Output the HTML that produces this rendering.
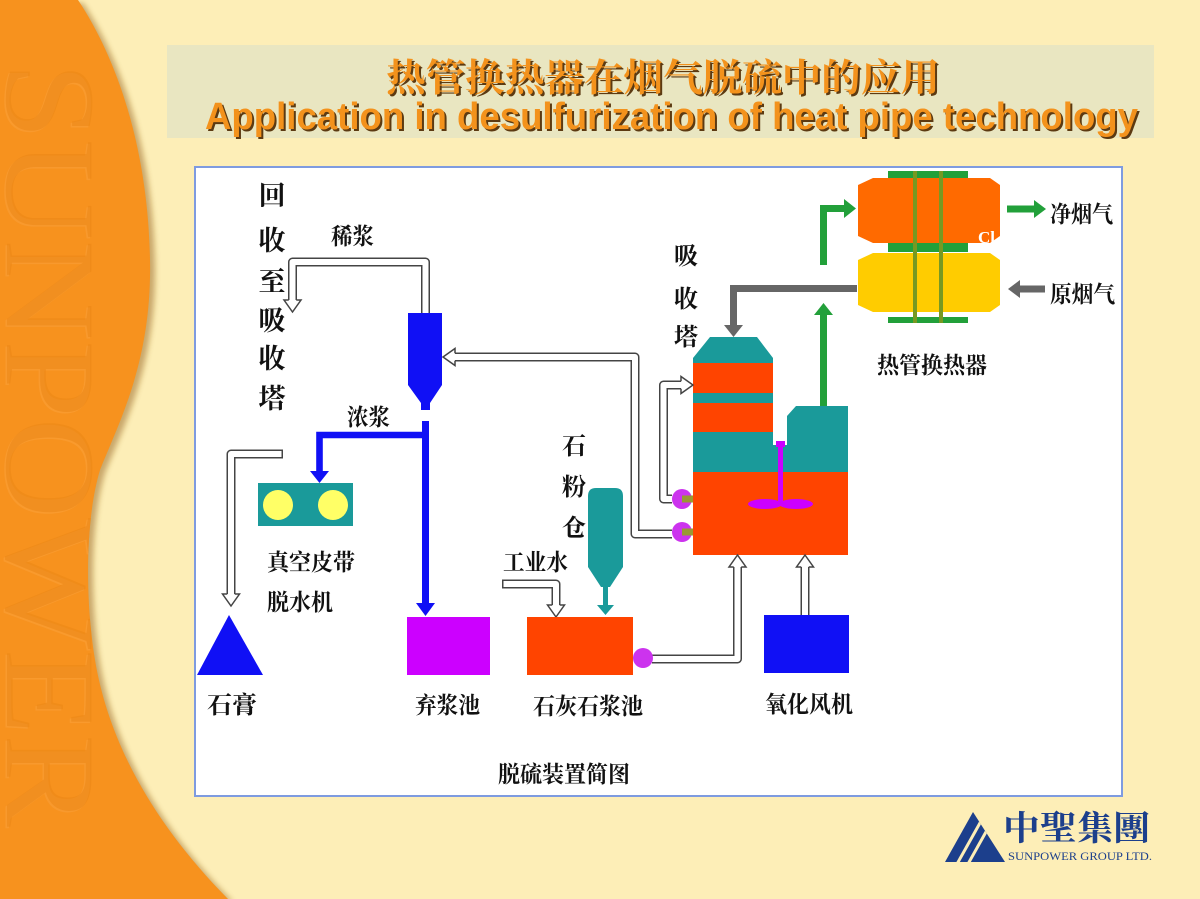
<!DOCTYPE html>
<html><head><meta charset="utf-8"><style>
html,body{margin:0;padding:0;background:#FDEEB7;}
svg{display:block}
</style></head><body>
<svg width="1200" height="899" viewBox="0 0 1200 899" xmlns="http://www.w3.org/2000/svg">
<defs>
<filter id="blur" x="-20%" y="-20%" width="140%" height="140%"><feGaussianBlur stdDeviation="3"/></filter>
<clipPath id="orangeClip"><path d="M0,0 L78,0 C118,60 148,150 150,260 C152,360 120,420 100,470 C85,520 85,600 95,660 C110,750 160,830 228,899 L0,899 Z"/></clipPath>
<clipPath id="tri"><polygon points="945,862 973,812 1005,862"/></clipPath>
</defs>
<rect width="1200" height="899" fill="#FDEEB7"/>
<!-- orange band -->
<path d="M0,0 L78,0 C118,60 148,150 150,260 C152,360 120,420 100,470 C85,520 85,600 95,660 C110,750 160,830 228,899 L0,899 Z" transform="translate(5,3)" fill="#8a5210" opacity="0.45" filter="url(#blur)"/>
<path d="M0,0 L78,0 C118,60 148,150 150,260 C152,360 120,420 100,470 C85,520 85,600 95,660 C110,750 160,830 228,899 L0,899 Z" fill="#F7921E"/>
<g clip-path="url(#orangeClip)">
<text transform="translate(7,62) rotate(90)" x="1.5" y="1.5" font-family="'Liberation Serif',serif" font-size="129" textLength="765" lengthAdjust="spacingAndGlyphs" fill="#FBA84A" opacity="0.35">SUNPOWER</text>
<text transform="translate(7,62) rotate(90)" x="0" y="0" font-family="'Liberation Serif',serif" font-size="129" textLength="765" lengthAdjust="spacingAndGlyphs" fill="#EC8716" opacity="0.55">SUNPOWER</text>
</g>

<!-- title box -->
<rect x="167" y="45" width="987" height="93" fill="#E9E6C1"/>
<text x="388" y="93" font-family="'Liberation Serif','Noto Serif CJK SC',serif" font-weight="700" font-size="38" textLength="554" lengthAdjust="spacingAndGlyphs" fill="#5C3A12">热管换热器在烟气脱硫中的应用</text>
<text x="386" y="91" font-family="'Liberation Serif','Noto Serif CJK SC',serif" font-weight="700" font-size="38" textLength="554" lengthAdjust="spacingAndGlyphs" fill="#F3921C">热管换热器在烟气脱硫中的应用</text>
<text x="207" y="131" font-family="'Liberation Sans',sans-serif" font-weight="700" font-size="38" textLength="933" lengthAdjust="spacingAndGlyphs" fill="#5C3A12">Application in desulfurization of heat pipe technology</text>
<text x="205" y="129" font-family="'Liberation Sans',sans-serif" font-weight="700" font-size="38" textLength="933" lengthAdjust="spacingAndGlyphs" fill="#F3921C">Application in desulfurization of heat pipe technology</text>

<!-- diagram box -->
<rect x="195" y="167" width="927" height="629" fill="#FFFFFF" stroke="#7E9BE0" stroke-width="2"/>

<!-- heat exchanger -->
<polygon points="873,178 990,178 1000,185 1000,236 990,243 873,243 858,236 858,185" fill="#FF6A00"/>
<polygon points="873,253 990,253 1000,260 1000,305 990,312 873,312 858,305 858,260" fill="#FFCC00"/>
<rect x="888" y="171" width="80" height="7" fill="#22A03A"/>
<rect x="888" y="243" width="80" height="9" fill="#22A03A"/>
<rect x="888" y="317" width="80" height="6" fill="#22A03A"/>
<rect x="913" y="171" width="4" height="152" fill="#779922"/>
<rect x="939" y="171" width="4" height="152" fill="#779922"/>
<text x="978" y="243" font-family="'Liberation Serif',serif" font-weight="700" font-size="17" fill="#FFFFFF">Cl</text>

<!-- green arrows -->
<g stroke="#22A03A" stroke-width="7" fill="none">
<path d="M823.5,406 V314"/>
<path d="M823.5,265 V208.5 H845"/>
<path d="M1007,209 H1035"/>
</g>
<g fill="#22A03A">
<polygon points="814,315 833,315 823.5,303"/>
<polygon points="844,199 844,218 856,208.5"/>
<polygon points="1034,200 1034,218 1046,209"/>
</g>
<!-- gray arrows -->
<g stroke="#666666" stroke-width="7" fill="none">
<path d="M857,288.5 H733.5 V326"/>
<path d="M1045,289 H1019"/>
</g>
<g fill="#666666">
<polygon points="724,325 743,325 733.5,337"/>
<polygon points="1020,280 1020,298 1008,289"/>
</g>

<!-- absorption tower -->
<polygon points="693,363 693,358 710,337 757,337 773,358 773,363" fill="#1A9A9A"/>
<rect x="693" y="363" width="80" height="30" fill="#FF4400"/>
<rect x="693" y="393" width="80" height="10" fill="#1A9A9A"/>
<rect x="693" y="403" width="80" height="29" fill="#FF4400"/>
<rect x="693" y="432" width="80" height="40" fill="#1A9A9A"/>
<polygon points="787,416 796,406 848,406 848,472 773,472 773,445 787,445" fill="#1A9A9A"/>
<rect x="693" y="472" width="155" height="83" fill="#FF4400"/>
<rect x="778" y="443" width="5" height="60" fill="#CC00FF"/>
<rect x="776" y="441" width="9" height="6" fill="#CC00FF"/>
<ellipse cx="765" cy="504" rx="17" ry="5" fill="#CC00FF"/>
<ellipse cx="796" cy="504" rx="17" ry="5" fill="#CC00FF"/>

<!-- hollow pipes -->
<g fill="none" stroke-linejoin="round">
<path d="M425.5,313 V262 H292.5 V300" stroke="#444" stroke-width="9"/>
<path d="M425.5,313 V262 H292.5 V300" stroke="#fff" stroke-width="6"/>
<path d="M672,534 H635 V357 H455" stroke="#444" stroke-width="9"/>
<path d="M672,534 H635 V357 H455" stroke="#fff" stroke-width="6"/>
<path d="M672,499 H663.5 V385 H681" stroke="#444" stroke-width="9"/>
<path d="M672,499 H663.5 V385 H681" stroke="#fff" stroke-width="6"/>
<path d="M283,454 H231 V594" stroke="#444" stroke-width="9"/>
<path d="M281.5,454 H231 V594" stroke="#fff" stroke-width="6"/>
<path d="M502,584 H556 V605" stroke="#444" stroke-width="9"/>
<path d="M503.5,584 H556 V605" stroke="#fff" stroke-width="6"/>
<path d="M652,659 H737.5 V567" stroke="#444" stroke-width="9"/>
<path d="M652,659 H737.5 V567" stroke="#fff" stroke-width="6"/>
<path d="M805,615 V567" stroke="#444" stroke-width="9"/>
<path d="M805,615 V567" stroke="#fff" stroke-width="6"/>
</g>
<g fill="#fff" stroke="#444" stroke-width="1.5" stroke-linejoin="miter">
<path d="M288.75,300 L284,300 L292.5,312 L301,300 L296.25,300"/>
<path d="M455,353.25 L455,348.5 L443,357 L455,365.5 L455,360.75"/>
<path d="M681,381.25 L681,376.5 L693,385 L681,393.5 L681,388.75"/>
<path d="M227.25,594 L222.5,594 L231,606 L239.5,594 L234.75,594"/>
<path d="M552.25,605 L547.5,605 L556,617 L564.5,605 L559.75,605"/>
<path d="M733.75,567 L729,567 L737.5,555 L746,567 L741.25,567"/>
<path d="M801.25,567 L796.5,567 L805,555 L813.5,567 L808.75,567"/>
</g>

<!-- pumps -->
<circle cx="682" cy="499" r="10" fill="#CC33EE"/>
<rect x="682" y="495.5" width="11" height="7" fill="#999933"/>
<circle cx="682" cy="532" r="10" fill="#CC33EE"/>
<rect x="682" y="528.5" width="11" height="7" fill="#999933"/>

<!-- hydrocyclone and blue lines -->
<polygon points="408,313 442,313 442,385 430,403 430,410 421,410 421,403 408,385" fill="#1010F5"/>
<g stroke="#1010F5" fill="none">
<path d="M425.5,421 V604" stroke-width="7"/>
<path d="M428,435 H319.5 V472" stroke-width="6.6"/>
</g>
<g fill="#1010F5">
<polygon points="416,603 435,603 425.5,616"/>
<polygon points="310,471 329,471 319.5,483"/>
</g>

<!-- vacuum belt -->
<rect x="258" y="483" width="95" height="43" fill="#1A9A9A"/>
<circle cx="278" cy="505" r="15" fill="#FFFF66"/>
<circle cx="333" cy="505" r="15" fill="#FFFF66"/>

<!-- gypsum -->
<polygon points="197,675 229,615 263,675" fill="#1010F5"/>

<!-- tanks -->
<rect x="407" y="617" width="83" height="58" fill="#CC00FF"/>
<rect x="527" y="617" width="106" height="58" fill="#FF4400"/>
<circle cx="643" cy="658" r="10" fill="#CC33EE"/>
<rect x="764" y="615" width="85" height="58" fill="#1010F5"/>

<!-- silo -->
<path d="M588,567 V496 Q588,488 596,488 H615 Q623,488 623,496 V567 L610,587 H601 Z" fill="#1A9A9A"/>
<rect x="603" y="586" width="5" height="20" fill="#1A9A9A"/>
<polygon points="597,605 614,605 605.5,615" fill="#1A9A9A"/>

<!-- labels -->
<g font-family="'Liberation Serif','Noto Serif CJK SC',serif" font-weight="700" fill="#111">
<g font-size="27" text-anchor="middle">
<text x="272" y="205">回</text>
<text x="272" y="250">收</text>
<text x="272" y="291">至</text>
<text x="272" y="330">吸</text>
<text x="272" y="368">收</text>
<text x="272" y="408">塔</text>
</g>
<g font-size="24" text-anchor="middle">
<text x="686" y="264">吸</text>
<text x="686" y="307">收</text>
<text x="686" y="345">塔</text>
<text x="574" y="454">石</text>
<text x="574" y="495">粉</text>
<text x="574" y="536">仓</text>
</g>
<g font-size="23">
<text x="331" y="244" textLength="43" lengthAdjust="spacingAndGlyphs">稀浆</text>
<text x="347" y="425" textLength="43" lengthAdjust="spacingAndGlyphs">浓浆</text>
<text x="267" y="570" textLength="88" lengthAdjust="spacingAndGlyphs">真空皮带</text>
<text x="267" y="610" textLength="66" lengthAdjust="spacingAndGlyphs">脱水机</text>
<text x="415" y="713" textLength="65" lengthAdjust="spacingAndGlyphs">弃浆池</text>
<text x="533" y="714" textLength="110" lengthAdjust="spacingAndGlyphs">石灰石浆池</text>
<text x="765" y="712" textLength="88" lengthAdjust="spacingAndGlyphs">氧化风机</text>
<text x="503" y="570" textLength="65" lengthAdjust="spacingAndGlyphs">工业水</text>
<text x="1050" y="222" textLength="63" lengthAdjust="spacingAndGlyphs">净烟气</text>
<text x="1050" y="302" textLength="65" lengthAdjust="spacingAndGlyphs">原烟气</text>
<text x="877" y="373" textLength="110" lengthAdjust="spacingAndGlyphs">热管换热器</text>
<text x="498" y="782" textLength="132" lengthAdjust="spacingAndGlyphs">脱硫装置简图</text>
</g>
<text x="207" y="713" font-size="24" textLength="50" lengthAdjust="spacingAndGlyphs">石膏</text>
</g>

<!-- logo -->
<polygon points="945,862 973,812 1005,862" fill="#1C3F8C"/>
<g clip-path="url(#tri)" stroke="#FDEEB7" stroke-width="3">
<line x1="957" y1="864" x2="985" y2="814"/>
<line x1="968" y1="864" x2="996" y2="814"/>
</g>
<text x="1003" y="840" font-family="'Noto Serif CJK TC','Noto Serif CJK SC',serif" font-weight="700" font-size="34" textLength="147" lengthAdjust="spacingAndGlyphs" fill="#1C3F8C">中聖集團</text>
<text x="1008" y="860" font-family="'Liberation Serif',serif" font-size="11.5" textLength="144" lengthAdjust="spacingAndGlyphs" fill="#1C3F8C">SUNPOWER GROUP LTD.</text>
</svg>
</body></html>
